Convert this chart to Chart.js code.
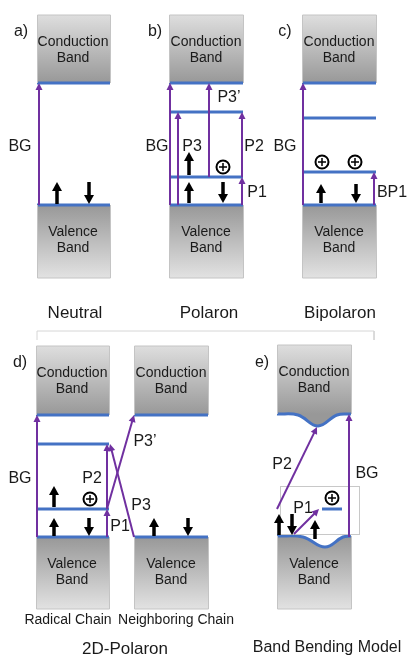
<!DOCTYPE html>
<html>
<head>
<meta charset="utf-8">
<script src="https://cdn.jsdelivr.net/npm/chart.js@4"></script>
<style>
  html, body { margin: 0; padding: 0; background: #fff; }
  canvas { display: block; }
</style>
</head>
<body>
<canvas id="bands" width="410" height="656"></canvas>
<script>
// figure units: x 0..410, y 0..656 (downwards)

// conduction band boxes [x0, x1, top, edge]
const cbBoxes = [
    [37, 110, 15, 83],
    [169, 243, 15, 83],
    [302, 376, 15, 83],
    [36, 109, 346, 415],
    [134, 208, 346, 415]
];
// valence band boxes [x0, x1, edge, bottom]
const vbBoxes = [
    [37, 110, 205, 278],
    [169, 243, 205, 278],
    [302, 376, 205, 278],
    [36, 109, 537, 609],
    [134, 208, 537, 609]
];
// band bending panel: bent edges
const bentCbEdge = [[277, 414], [298, 415], [318, 426], [337, 415], [351, 414]];
const bentVbEdge = [[277, 536], [303, 537], [325, 547], [343, 537], [351, 536]];
const bentCbTop = 345;
const bentVbBottom = 609;

// polaron / bipolaron gap levels [x0, x1, y]
const gapLevels = [
    [170, 243, 112], [170, 243, 177],
    [302, 376, 118], [302, 376, 172],
    [36, 109, 444], [36, 109, 509],
    [322, 342, 509]
];

// optical transitions [x0, y0, x1, y1]
const transitions = [
    [39, 205, 39, 83],
    [170, 205, 170, 83], [178, 205, 178, 112], [209, 177, 209, 83],
    [242, 205, 242, 177], [242, 177, 242, 112],
    [303, 205, 303, 83], [374, 205, 374, 172],
    [37, 537, 37, 415], [107, 537, 107, 509], [107, 509, 107, 444],
    [107, 509, 134, 415], [134, 537, 110, 444],
    [349, 537, 349, 414], [277, 509, 317, 427], [294, 534, 319, 509]
];

// electron spins [x, yFrom, yTo]
const spins = [
    [57, 204, 182], [89, 182, 204],
    [189, 203, 182], [189, 175, 152], [223, 182, 203],
    [321, 203, 184], [356, 184, 203],
    [54, 536, 518], [54, 507, 486], [89, 518, 536],
    [154, 536, 518], [188, 518, 536],
    [279, 535, 514], [292, 514, 535], [315, 539, 520]
];

// holes (circled plus) [x, y]
const holes = [[223, 167], [322, 162], [355, 162], [90, 499], [332, 498]];

// transition labels [text, x, y]
const arrowLabels = [
    ['a)', 21, 32], ['b)', 155, 32], ['c)', 285, 32], ['d)', 20, 363], ['e)', 262, 363],
    ['BG', 20, 147], ['BG', 157, 147], ['P3', 192, 147], ['P2', 254, 147],
    ['P1', 257, 193], ['P3\u2019', 229, 98],
    ['BG', 285, 147], ['BP1', 392, 193],
    ['BG', 20, 479], ['P2', 92, 479], ['P3\u2019', 145, 442], ['P3', 141, 506], ['P1', 120, 527],
    ['P2', 282, 465], ['BG', 367, 474], ['P1', 303, 509]
];

// band names [line1, line2, centerX, top]
const bandNames = [
    ['Conduction', 'Band', 73, 15], ['Conduction', 'Band', 206, 15], ['Conduction', 'Band', 339, 15],
    ['Valence', 'Band', 73, 205], ['Valence', 'Band', 206, 205], ['Valence', 'Band', 339, 205],
    ['Conduction', 'Band', 72, 346], ['Conduction', 'Band', 171, 346], ['Conduction', 'Band', 314, 345],
    ['Valence', 'Band', 72, 537], ['Valence', 'Band', 171, 537], ['Valence', 'Band', 314, 537]
];

// captions [text, x, y, size]
const captions = [
    ['Neutral', 75, 313, 17], ['Polaron', 209, 313, 17], ['Bipolaron', 340, 313, 17],
    ['Radical Chain', 68, 620, 14], ['Neighboring Chain', 176, 620, 14],
    ['2D-Polaron', 125, 649, 17], ['Band Bending Model', 327, 648, 16]
];

// light frame pieces [x0, y0, x1, y1]
const frameBracket = [[37, 340], [37, 331], [374, 331], [374, 340]];
const zoomRect = [280, 486, 359, 534];

const BLUE = '#4472c4';
const PURPLE = '#7030a0';
const FONT = '"Liberation Sans", Arial, sans-serif';

function boxGradient(kind, top, bottom) {
    return (c) => {
        const chart = c.chart;
        if (!chart.chartArea) return '#bbb';
        const ys = chart.scales.y;
        const g = chart.ctx.createLinearGradient(0, ys.getPixelForValue(top), 0, ys.getPixelForValue(bottom));
        if (kind === 'cb') {
            g.addColorStop(0, '#dedede');
            g.addColorStop(1, '#989898');
        } else {
            g.addColorStop(0, '#989898');
            g.addColorStop(1, '#e2e2e2');
        }
        return g;
    };
}

const datasets = [];

cbBoxes.forEach(b => {
    datasets.push({
        data: [{ x: b[0], y: b[3] }, { x: b[1], y: b[3] }],
        borderColor: BLUE, borderWidth: 3,
        backgroundColor: boxGradient('cb', b[2], b[3]),
        fill: { value: b[2] }, order: 3
    });
});
vbBoxes.forEach(b => {
    datasets.push({
        data: [{ x: b[0], y: b[2] }, { x: b[1], y: b[2] }],
        borderColor: BLUE, borderWidth: 3,
        backgroundColor: boxGradient('vb', b[2], b[3]),
        fill: { value: b[3] }, order: 3
    });
});
datasets.push({
    data: bentCbEdge.map(p => ({ x: p[0], y: p[1] })),
    borderColor: BLUE, borderWidth: 3, tension: 0.4,
    backgroundColor: boxGradient('cb', bentCbTop, 414),
    fill: { value: bentCbTop }, order: 3
});
datasets.push({
    data: bentVbEdge.map(p => ({ x: p[0], y: p[1] })),
    borderColor: BLUE, borderWidth: 3, tension: 0.4,
    backgroundColor: boxGradient('vb', 537, bentVbBottom),
    fill: { value: bentVbBottom }, order: 3
});
gapLevels.forEach(l => {
    datasets.push({
        data: [{ x: l[0], y: l[2] }, { x: l[1], y: l[2] }],
        borderColor: BLUE, borderWidth: 3, fill: false, order: 2
    });
});
datasets.push({
    data: frameBracket.map(p => ({ x: p[0], y: p[1] })),
    borderColor: '#d6d6d6', borderWidth: 1, fill: false, order: 4
});

function drawArrow(ctx, x0, y0, x1, y1, color, width, headLen, headW) {
    const a = Math.atan2(y1 - y0, x1 - x0);
    const cos = Math.cos(a), sin = Math.sin(a);
    ctx.save();
    ctx.strokeStyle = color;
    ctx.fillStyle = color;
    ctx.lineWidth = width;
    ctx.beginPath();
    ctx.moveTo(x0, y0);
    ctx.lineTo(x1 - cos * headLen * 0.7, y1 - sin * headLen * 0.7);
    ctx.stroke();
    ctx.beginPath();
    ctx.moveTo(x1, y1);
    ctx.lineTo(x1 - cos * headLen - sin * headW / 2, y1 - sin * headLen + cos * headW / 2);
    ctx.lineTo(x1 - cos * headLen + sin * headW / 2, y1 - sin * headLen - cos * headW / 2);
    ctx.closePath();
    ctx.fill();
    ctx.restore();
}

const diagramPlugin = {
    id: 'diagram',
    afterDatasetsDraw(chart) {
        const ctx = chart.ctx;
        const X = v => chart.scales.x.getPixelForValue(v);
        const Y = v => chart.scales.y.getPixelForValue(v);

        // thin box outlines
        ctx.save();
        ctx.strokeStyle = '#c4c4c4';
        ctx.lineWidth = 1;
        const outline = (pts) => {
            ctx.beginPath();
            pts.forEach((p, i) => i ? ctx.lineTo(X(p[0]) + 0.5, Y(p[1])) : ctx.moveTo(X(p[0]) + 0.5, Y(p[1])));
            ctx.stroke();
        };
        cbBoxes.forEach(b => outline([[b[0], b[3]], [b[0], b[2]], [b[1], b[2]], [b[1], b[3]]]));
        vbBoxes.forEach(b => outline([[b[0], b[2]], [b[0], b[3]], [b[1], b[3]], [b[1], b[2]]]));
        outline([[277, 414], [277, bentCbTop], [351, bentCbTop], [351, 414]]);
        outline([[277, 536], [277, bentVbBottom], [351, bentVbBottom], [351, 536]]);
        ctx.strokeStyle = '#c8c8c8';
        ctx.strokeRect(X(zoomRect[0]) + 0.5, Y(zoomRect[1]) + 0.5, X(zoomRect[2]) - X(zoomRect[0]), Y(zoomRect[3]) - Y(zoomRect[1]));
        ctx.restore();

        transitions.forEach(t => drawArrow(ctx, X(t[0]), Y(t[1]), X(t[2]), Y(t[3]), PURPLE, 2, 7, 7));
        spins.forEach(s => drawArrow(ctx, X(s[0]), Y(s[1]), X(s[0]), Y(s[2]), '#000', 3.5, 9, 10));

        // holes
        ctx.save();
        ctx.strokeStyle = '#000';
        holes.forEach(h => {
            const cx = X(h[0]), cy = Y(h[1]);
            ctx.lineWidth = 2;
            ctx.beginPath();
            ctx.arc(cx, cy, 6.5, 0, Math.PI * 2);
            ctx.stroke();
            ctx.lineWidth = 1.5;
            ctx.beginPath();
            ctx.moveTo(cx - 4, cy); ctx.lineTo(cx + 4, cy);
            ctx.moveTo(cx, cy - 4); ctx.lineTo(cx, cy + 4);
            ctx.stroke();
        });
        ctx.restore();

        // text
        ctx.save();
        ctx.fillStyle = '#1a1a1a';
        ctx.textAlign = 'center';
        ctx.textBaseline = 'middle';
        ctx.font = '14px ' + FONT;
        bandNames.forEach(n => {
            ctx.fillText(n[0], X(n[2]), Y(n[3] + 27));
            ctx.fillText(n[1], X(n[2]), Y(n[3] + 43));
        });
        ctx.font = '16px ' + FONT;
        arrowLabels.forEach(l => ctx.fillText(l[0], X(l[1]), Y(l[2])));
        captions.forEach(c => {
            ctx.font = c[3] + 'px ' + FONT;
            ctx.fillText(c[0], X(c[1]), Y(c[2]));
        });
        ctx.restore();
    }
};

new Chart(document.getElementById('bands'), {
    type: 'scatter',
    data: { datasets: datasets },
    options: {
        responsive: false,
        animation: false,
        devicePixelRatio: 1,
        showLine: true,
        layout: { padding: 0 },
        elements: { point: { radius: 0, hoverRadius: 0 }, line: { borderCapStyle: 'butt' } },
        plugins: { legend: { display: false }, tooltip: { enabled: false } },
        scales: {
            x: { type: 'linear', min: 0, max: 410, display: false },
            y: { type: 'linear', min: 0, max: 656, reverse: true, display: false }
        }
    },
    plugins: [diagramPlugin]
});
</script>
</body>
</html>
